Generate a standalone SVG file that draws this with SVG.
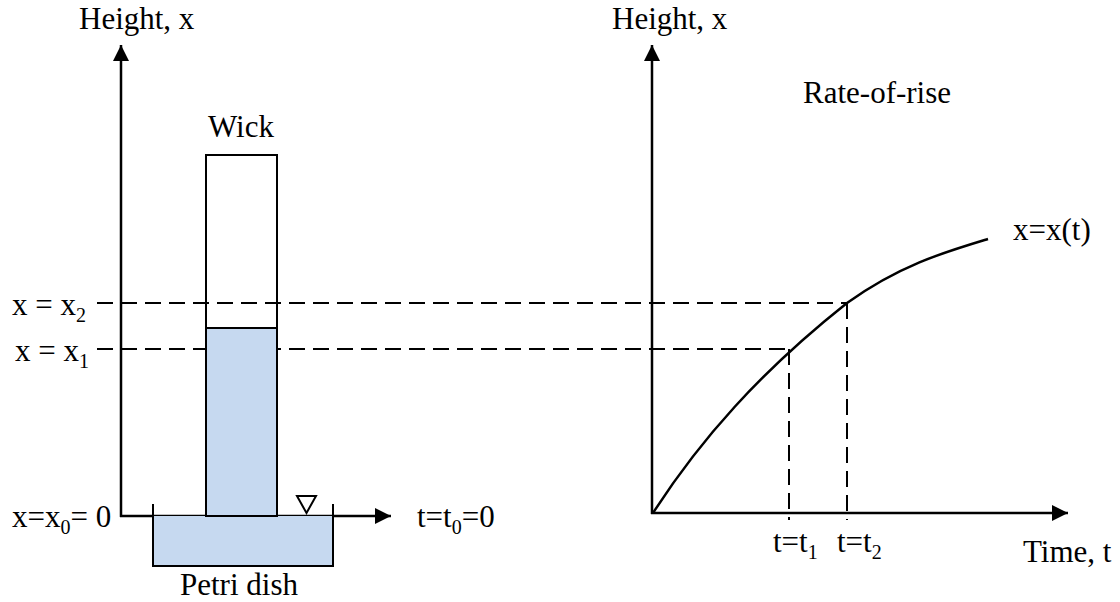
<svg xmlns="http://www.w3.org/2000/svg" width="1120" height="602" viewBox="0 0 1120 602">
<style>
text{font-family:"Times New Roman","Liberation Serif",Tinos,"DejaVu Serif",serif;font-size:31px;fill:#000}
.sub{font-size:20px}
.axis{stroke:#000;stroke-width:2.5;fill:none}
.dash{stroke:#000;stroke-width:2;stroke-dasharray:16 8;fill:none}
.box{stroke:#000;stroke-width:2}
.water{fill:#C6D9F0}
</style>
<defs>
<marker id="arr" markerUnits="userSpaceOnUse" markerWidth="18" markerHeight="18" refX="16" refY="8" orient="auto">
<path d="M0,0 L16,8 L0,16 Z" fill="#000"/>
</marker>
</defs>
<rect width="1120" height="602" fill="#fff"/>
<g id="connectors">
<line class="dash" x1="97" y1="303" x2="847" y2="303"/>
<line class="dash" x1="97" y1="349" x2="789" y2="349"/>
<line class="dash" x1="789" y1="349" x2="789" y2="520"/>
<line class="dash" x1="847" y1="303" x2="847" y2="520"/>
<line class="axis" x1="121" y1="517" x2="121" y2="45" marker-end="url(#arr)"/>
<line class="axis" x1="120" y1="516" x2="391" y2="516" marker-end="url(#arr)"/>
<line class="axis" x1="652" y1="514" x2="652" y2="45" marker-end="url(#arr)"/>
<line class="axis" x1="651" y1="513" x2="1068" y2="513" marker-end="url(#arr)"/>
<path class="axis" stroke-width="2" d="M653,513 C700,440 760,372 847,303 C900,265 945,252 988,239"/>
</g>
<g id="petri-dish">
<rect class="water" x="153" y="516" width="180" height="50"/>
<path class="box" fill="none" d="M153,504 L153,566 L333,566 L333,504"/>
<polygon points="297,496 316,496 306.5,513" fill="#fff" stroke="#000" stroke-width="2"/>
<text x="180" y="595">Petri dish</text>
</g>
<g id="wick">
<rect class="box" x="206" y="155" width="71" height="361" fill="none"/>
<rect class="box water" x="206" y="328" width="71" height="188"/>
<text x="208" y="137">Wick</text>
</g>
<g id="labels-left">
<text x="79" y="29">Height, x</text>
<text x="12" y="315">x = x<tspan class="sub" dy="7">2</tspan></text>
<text x="15" y="361">x = x<tspan class="sub" dy="7">1</tspan></text>
<text x="12" y="527">x=x<tspan class="sub" dy="7">0</tspan><tspan dy="-7">= 0</tspan></text>
<text x="417" y="527">t=t<tspan class="sub" dy="7">0</tspan><tspan dy="-7">=0</tspan></text>
</g>
<g id="labels-right">
<text x="612" y="29">Height, x</text>
<text x="803" y="103">Rate-of-rise</text>
<text x="1013" y="240">x=x(t)</text>
<text x="773" y="552">t=t<tspan class="sub" dy="7">1</tspan></text>
<text x="837" y="552">t=t<tspan class="sub" dy="7">2</tspan></text>
<text x="1023" y="562">Time, t</text>
</g>
</svg>
